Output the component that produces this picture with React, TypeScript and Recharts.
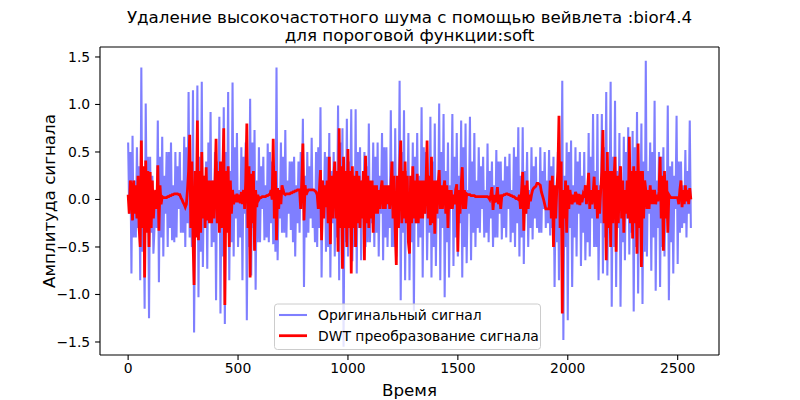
import { LineChart, Line, XAxis, YAxis, ReferenceLine } from 'recharts';

// time units between stored samples (both series)
const STEP = 5;

const originalSignal = [
  0.6, -0.15, 0.5, -0.78, 0.67, -0.4, 0.2, -0.4, 0.55, -0.3, 0.35, -0.85,
  1.39, -0.55, 0.1, -1.15, 1.01, -0.2, 0.45, -1.25, 0.45, -0.35, 0.25, -0.57,
  -0.3, 0.1, -0.3, 0.83, -0.87, 0.45, -0.4, 0.66, -0.6, 0.25, -0.15, 0.5,
  -0.5, 0.5, -0.3, 0.6, -0.43, 0.15, -0.45, 0.5, -0.4, 0.35, -0.1, 0.5,
  -0.35, 0.2, -0.35, 0.66, -0.5, 0.55, -0.25, 1.13, -0.4, 0.3, -0.5, 1.15,
  -1.4, 0.1, -0.2, 1.2, -1.03, 0.45, -0.55, 1.24, -0.71, 0.25, -0.3, 0.4,
  -0.73, 0.6, -0.15, 0.92, -0.5, 0.2, -0.45, 0.5, -1.06, 0.4, -0.25, 0.87,
  -1.2, 0.15, -0.6, 0.97, -1.31, 0.5, -0.3, 1.13, -0.85, 0.3, -0.45, 1.23,
  -0.6, 0.55, -0.2, 0.7, -0.5, 0.1, -0.4, 0.55, -0.85, 0.45, -0.15, 0.6,
  -1.27, 0.25, -0.5, 1.06, -0.8, 0.6, -0.3, 0.73, -0.95, 0.2, -0.45, 0.55,
  -0.45, 0.35, -0.1, 0.45, -0.43, 0.15, -0.4, 0.59, -0.45, 0.5, -0.25, 0.4,
  -0.47, 0.3, -0.55, 1.39, -0.64, 0.1, -0.2, 0.6, -0.35, 0.45, -0.35, 0.73,
  -0.4, 0.2, -0.15, 0.4, -0.32, 0.4, -0.45, 0.45, -0.6, 0.15, -0.25, 0.4,
  -0.35, 0.5, -0.1, 0.85, -0.92, 0.25, -0.4, 0.5, -0.35, 0.35, -0.2, 0.65,
  -0.3, 0.1, -0.45, 0.5, -0.5, 0.55, -0.3, 0.97, -0.82, 0.2, -0.15, 0.5,
  -0.55, 0.45, -0.5, 0.7, -0.82, 0.3, -0.25, 0.5, -0.6, 0.15, -0.4, 0.99,
  -0.85, 0.6, -0.2, 0.75, -1.55, 0.25, -0.45, 0.85, -0.6, 0.4, -0.15, 0.95,
  -0.65, 0.1, -0.5, 0.95, -0.78, 0.5, -0.3, 0.55, -0.64, 0.2, -0.1, 0.5,
  -0.5, 0.35, -0.45, 0.8, -0.45, 0.15, -0.25, 0.6, -0.5, 0.45, -0.35, 0.6,
  -0.6, 0.25, -0.15, 0.7, -0.64, 0.55, -0.4, 0.55, -0.5, 0.1, -0.3, 0.94,
  -0.5, 0.4, -0.5, 0.75, -0.6, 0.2, -0.2, 1.25, -1.06, 0.5, -0.35, 0.94,
  -0.85, 0.3, -0.1, 0.7, -0.85, 0.15, -0.45, 0.6, -1.17, 0.45, -0.25, 0.7,
  -0.5, 0.25, -0.4, 0.97, -0.82, 0.55, -0.15, 0.5, -0.64, 0.1, -0.35, 0.87,
  -0.82, 0.4, -0.5, 0.8, -0.7, 0.2, -0.2, 1.01, -0.85, 0.5, -0.3, 0.9,
  -1.03, 0.3, -0.45, 0.6, -0.82, 0.15, -0.1, 0.9, -0.7, 0.45, -0.4, 0.7,
  -0.6, 0.25, -0.25, 0.83, -0.82, 0.55, -0.5, 0.8, -0.67, 0.1, -0.15, 0.87,
  -0.64, 0.4, -0.35, 0.7, -0.5, 0.2, -0.3, 0.55, -0.35, 0.35, -0.1, 0.45,
  -0.4, 0.1, -0.35, 0.59, -0.45, 0.3, -0.2, 0.4, -0.5, 0.15, -0.4, 0.52,
  -0.4, 0.4, -0.15, 0.4, -0.42, 0.2, -0.3, 0.45, -0.4, 0.35, -0.1, 0.48,
  -0.45, 0.1, -0.35, 0.55, -0.5, 0.45, -0.25, 0.76, -0.6, 0.25, -0.4, 0.76,
  -0.68, 0.3, -0.15, 0.5, -0.5, 0.1, -0.3, 0.55, -0.42, 0.35, -0.2, 0.45,
  -0.3, 0.15, -0.35, 0.55, -0.35, 0.3, -0.1, 0.5, -0.3, 0.2, -0.25, 0.52,
  -0.38, 0.35, -0.3, 0.45, -0.92, 0.1, -0.45, 0.5, -0.85, 0.4, -0.2, 1.25,
  -1.48, 0.25, -0.5, 0.6, -1.27, 0.5, -0.3, 0.62, -0.92, 0.15, -0.4, 0.55,
  -0.6, 0.4, -0.15, 0.5, -0.7, 0.25, -0.35, 0.5, -0.64, 0.1, -0.45, 0.7,
  -0.6, 0.45, -0.2, 0.9, -0.5, 0.3, -0.5, 0.9, -0.85, 0.15, -0.25, 0.9,
  -0.78, 0.55, -0.4, 1.13, -0.8, 0.2, -0.1, 1.24, -1.13, 0.45, -0.5, 1.04,
  -0.92, 0.3, -0.3, 0.7, -1.13, 0.1, -0.45, 0.66, -0.64, 0.5, -0.2, 0.76,
  -0.58, 0.25, -0.35, 0.72, -1.18, 0.55, -0.5, 0.92, -0.99, 0.15, -0.25, 0.8,
  -1.1, 0.4, -0.55, 1.46, -0.6, 0.3, -0.15, 0.6, -0.75, 0.5, -0.4, 1.04,
  -0.96, 0.2, -0.3, 0.5, -0.92, 0.45, -0.5, 0.55, -0.6, 0.1, -0.2, 0.99,
  -1.06, 0.35, -0.45, 0.4, -0.78, 0.25, -0.1, 0.88, -0.68, 0.4, -0.35, 0.4,
  -0.3, 0.15, -0.25, 0.52, -0.4, 0.3, -0.15, 0.83, -0.3,
];

const dwtSignal = [
  0.05, -0.15, 0.2, 0.13, -0.22, 0.2, -0.15, 0.15, -0.2, 0.25, -0.3, -0.5,
  0.62, -0.3, 0.35, -0.82, 0.41, -0.35, 0.3, -0.5, 0.29, -0.3, 0.2, -0.2,
  0.02, 0.1, -0.1, 0.36, -0.33, 0.15, -0.05, 0.03, 0.02, 0.02, 0.02, 0.02,
  0.03, 0.03, 0.04, 0.04, 0.05, 0.05, 0.06, 0.06, 0.06, 0.06, 0.05, 0.05,
  0.02, 0.0, -0.03, -0.05, -0.08, -0.05, 0.1, 0.3, 0.68, -0.3, 0.4, -0.4,
  -0.9, 0.3, -0.4, 0.83, -0.43, 0.3, -0.35, 0.5, -0.2, 0.25, -0.3, 0.34,
  -0.22, 0.2, -0.25, 0.2, -0.25, 0.2, -0.2, 0.15, 0.64, -0.25, 0.3, -0.35,
  0.4, -0.3, 0.2, 0.75, -1.11, 0.3, -0.35, 0.35, -0.5, 0.2, -0.15, 0.1,
  -0.05, 0.05, -0.03, 0.06, -0.03, 0.05, -0.04, 0.08, -0.05, 0.1, -0.1, 0.2,
  0.8, -0.3, 0.35, -0.82, 0.27, -0.25, 0.3, -0.54, 0.1, -0.08, 0.05, 0.0,
  0.02, 0.02, 0.03, 0.03, 0.03, 0.03, 0.04, 0.04, 0.05, 0.05, 0.1, 0.0,
  0.64, -0.2, 0.3, -0.43, 0.12, -0.1, 0.1, -0.05, 0.15, 0.1, 0.06, 0.05,
  0.06, 0.06, 0.06, 0.06, 0.07, 0.07, 0.08, 0.08, 0.09, 0.09, 0.1, 0.1,
  0.1, -0.1, 0.2, 0.59, -0.22, 0.15, 0.05, 0.08, 0.1, 0.1, 0.1, 0.1,
  0.1, 0.1, 0.09, 0.08, 0.05, -0.1, 0.1, 0.31, -0.43, 0.2, -0.2, 0.15,
  -0.08, 0.2, -0.25, 0.45, -0.47, 0.25, -0.2, 0.2, 0.4, -0.2, 0.3, -0.55,
  0.75, -0.3, 0.35, -0.73, 0.45, -0.3, 0.3, -0.5, 0.53, -0.3, 0.3, -0.78,
  0.35, -0.3, 0.25, -0.5, 0.3, -0.25, 0.25, -0.3, 0.2, -0.2, 0.3, -0.64,
  0.46, -0.25, 0.25, -0.3, 0.2, -0.2, 0.2, -0.35, 0.15, -0.15, 0.15, -0.15,
  0.1, -0.1, 0.1, 0.2, -0.1, 0.15, -0.1, 0.15, -0.05, 0.15, -0.1, 0.1,
  0.4, -0.2, 0.25, -0.33, -0.69, 0.25, -0.3, 0.3, 0.62, -0.25, 0.3, -0.2,
  0.4, -0.25, 0.25, -0.45, -0.57, 0.25, -0.25, 0.35, -0.2, 0.2, -0.25, 0.27,
  -0.25, 0.2, -0.2, 0.2, -0.2, 0.2, -0.15, 0.15, 0.62, -0.2, 0.25, -0.27,
  0.45, -0.25, 0.2, -0.36, 0.2, -0.15, 0.15, 0.31, -0.1, 0.15, -0.1, 0.1,
  0.2, -0.15, 0.15, -0.3, 0.1, -0.1, 0.1, -0.1, 0.05, -0.05, 0.1, 0.16,
  -0.55, 0.1, -0.15, 0.15, 0.34, -0.1, 0.1, -0.1, 0.06, 0.05, 0.05, 0.05,
  0.04, 0.04, 0.04, 0.04, 0.03, 0.03, 0.03, 0.03, 0.03, 0.03, 0.03, 0.03,
  0.03, 0.03, 0.03, 0.03, 0.02, 0.0, 0.05, 0.13, -0.11, 0.05, -0.03, 0.02,
  0.13, -0.05, 0.05, -0.1, 0.04, 0.04, 0.05, 0.05, 0.06, 0.06, 0.05, 0.05,
  0.04, 0.04, 0.03, 0.03, 0.02, 0.01, 0.01, 0.0, 0.05, -0.1, 0.1, 0.29,
  -0.33, 0.15, -0.15, 0.2, -0.1, 0.05, -0.02, 0.05, 0.1, 0.12, 0.13, 0.14,
  0.17, 0.17, 0.16, 0.15, 0.08, 0.04, 0.0, -0.05, -0.1, -0.1, -0.1, -0.1,
  0.2, -0.2, 0.25, -0.5, 0.15, -0.2, 0.1, 0.3, 0.88, -0.3, 0.4, -1.2,
  0.1, -0.2, 0.2, -0.35, 0.15, -0.1, 0.1, 0.0, -0.05, 0.05, -0.03, 0.08,
  0.05, -0.05, 0.06, -0.06, 0.05, -0.03, 0.05, 0.02, 0.15, -0.05, 0.1, 0.28,
  -0.1, 0.1, -0.05, 0.05, 0.24, -0.1, 0.15, -0.2, 0.1, -0.15, 0.1, 0.3,
  0.73, -0.25, 0.3, -0.64, 0.5, -0.3, 0.3, -0.5, 0.3, -0.25, 0.2, 0.45,
  -0.55, 0.25, -0.25, 0.2, 0.35, -0.2, 0.2, -0.35, 0.1, -0.15, 0.2, -0.2,
  0.66, -0.25, 0.3, -0.41, 0.35, -0.25, 0.3, -0.57, 0.59, -0.3, 0.3, -0.71,
  0.3, -0.2, 0.2, 0.1, -0.1, 0.1, -0.1, 0.15, -0.05, 0.1, -0.05, 0.1,
  -0.05, 0.05, -0.02, 0.08, 0.45, -0.2, 0.25, -0.54, 0.3, -0.2, 0.2, -0.35,
  0.05, 0.03, 0.02, 0.02, 0.02, 0.02, 0.02, 0.02, 0.02, -0.05, 0.1, 0.2,
  -0.08, 0.1, -0.05, 0.15, -0.02, 0.1, -0.05, 0.12, 0.0,
];

const xTicks = [0, 500, 1000, 1500, 2000, 2500];
const yTicks = [-1.5, -1.0, -0.5, 0.0, 0.5, 1.0, 1.5];

const X_MIN = -128;
const X_MAX = 2688;
const Y_MIN = -1.637;
const Y_MAX = 1.605;

const FONT = 'DejaVu Sans';

const origData = originalSignal.map((v, i) => ({ x: i * STEP, y: v }));
const dwtData = dwtSignal.map((v, i) => ({ x: i * STEP, y: v }));

const fmtY = (v: number) => v.toFixed(1).replace('-', '\u2212');

export default function App() {
  const tickStyle = { fontFamily: FONT, fontSize: 13.9, fill: '#000' };
  return (
    <div style={{ position: 'absolute', left: 0, top: 0, width: 800, height: 400, background: '#fff' }}>
      <LineChart width={800} height={400} margin={{ top: 47, right: 81, bottom: 0, left: 0 }}>
        <XAxis
          dataKey="x"
          type="number"
          domain={[X_MIN, X_MAX]}
          ticks={xTicks}
          allowDataOverflow
          height={45}
          tick={tickStyle}
          tickSize={4.9}
          tickMargin={3}
          tickLine={{ stroke: '#000', strokeWidth: 1.1 }}
          axisLine={{ stroke: '#000', strokeWidth: 1.1 }}
        />
        <YAxis
          type="number"
          domain={[Y_MIN, Y_MAX]}
          ticks={yTicks}
          allowDataOverflow
          width={100}
          tick={tickStyle}
          tickFormatter={fmtY}
          tickSize={4.9}
          tickMargin={4.9}
          tickLine={{ stroke: '#000', strokeWidth: 1.1 }}
          axisLine={{ stroke: '#000', strokeWidth: 1.1 }}
        />
        <Line
          data={origData}
          type="linear"
          dataKey="y"
          stroke="#0000ff"
          strokeOpacity={0.5}
          strokeWidth={2.08}
          dot={false}
          isAnimationActive={false}
        />
        <Line
          data={dwtData}
          type="linear"
          dataKey="y"
          stroke="#ff0000"
          strokeWidth={2.78}
          dot={false}
          isAnimationActive={false}
        />
        <ReferenceLine y={Y_MAX} stroke="#000" strokeWidth={1.1} />
        <ReferenceLine x={X_MAX} stroke="#000" strokeWidth={1.1} />
      </LineChart>
      <svg
        width={800}
        height={400}
        style={{ position: 'absolute', left: 0, top: 0, pointerEvents: 'none' }}
        fontFamily={FONT}
      >
        <text x={409.5} y={23} textAnchor="middle" fontSize={16.7} fill="#000">
          Удаление высокочастотного шума с помощью вейвлета :bior4.4
        </text>
        <text x={409.5} y={41} textAnchor="middle" fontSize={16.7} fill="#000">
          для пороговой функции:soft
        </text>
        <text x={409.5} y={396} textAnchor="middle" fontSize={16.7} fill="#000">
          Время
        </text>
        <text x={55} y={201} textAnchor="middle" fontSize={16.7} fill="#000" transform="rotate(-90 55 201)">
          Амплитуда сигнала
        </text>
        <rect x={274.5} y={304} width={266} height={45.5} rx={3} fill="#fff" fillOpacity={0.8} stroke="#ccc" strokeWidth={1} />
        <line x1={279} y1={315} x2={307} y2={315} stroke="#0000ff" strokeOpacity={0.5} strokeWidth={2.08} />
        <line x1={279} y1={335.7} x2={307} y2={335.7} stroke="#ff0000" strokeWidth={2.78} />
        <text x={318} y={320} fontSize={13.9} fill="#000">Оригинальный сигнал</text>
        <text x={318} y={340.7} fontSize={13.9} fill="#000">DWT преобразование сигнала</text>
      </svg>
    </div>
  );
}
